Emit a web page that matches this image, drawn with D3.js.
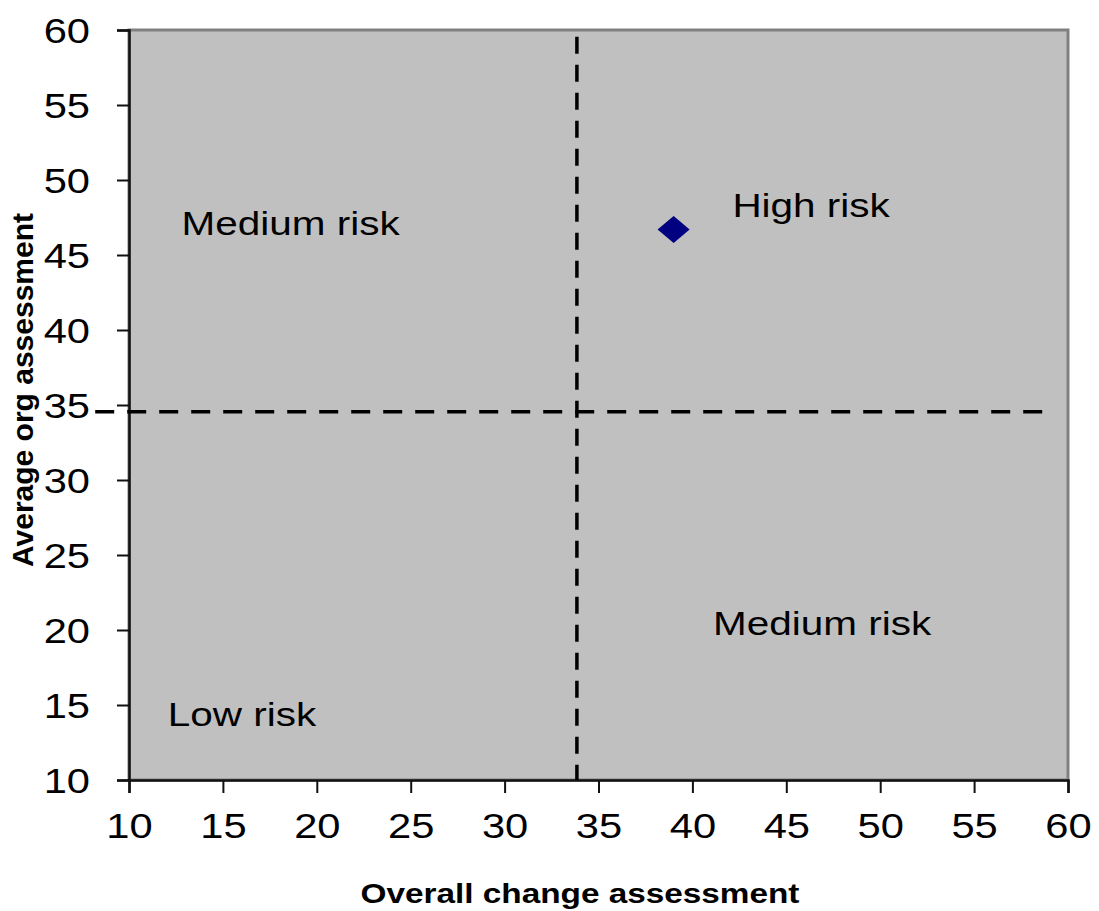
<!DOCTYPE html>
<html>
<head>
<meta charset="utf-8">
<script src="https://cdn.jsdelivr.net/npm/d3@7"></script>
<style>
  html, body { margin: 0; padding: 0; background: #fff; }
  svg { display: block; }
  text { font-family: Arial, "Liberation Sans", sans-serif; fill: #000; }
</style>
</head>
<body>
<svg id="chart" width="1099" height="911"></svg>
<script>
// ---- data ----
const xDomain = [10, 60];
const yDomain = [10, 60];
const xTicks = [10, 15, 20, 25, 30, 35, 40, 45, 50, 55, 60];
const yTicks = [10, 15, 20, 25, 30, 35, 40, 45, 50, 55, 60];
const points = [{ x: 39.0, y: 46.7 }];
const xThreshold = 33.85;           // vertical dashed line
const xThresholdSpan = [10, 59.55];
const yThreshold = 34.55;           // horizontal dashed line
const yThresholdSpan = [8.2, 58.9];
const zoneLabels = ["Medium risk", "High risk", "Medium risk", "Low risk"];
const zoneLabelX = [12.8, 42.13, 41.1, 12.07];
const zoneLabelY = [46.33, 47.53, 19.67, 13.6];
const xTitle = "Overall change assessment";
const yTitle = "Average org assessment";

(function () {
// ---- layout ----
const svg = d3.select("#chart");
const pLeft = 129, pRight = 1068, pTop = 30, pBottom = 780;
const stretch = 1.19;

const x = d3.scaleLinear().domain(xDomain).range([pLeft, pRight]);
const y = d3.scaleLinear().domain(yDomain).range([pBottom, pTop]);

function widen(sel) {
  sel.each(function () {
    const w = this.getComputedTextLength();
    d3.select(this).attr("textLength", w * stretch).attr("lengthAdjust", "spacingAndGlyphs");
  });
}

// plot area
svg.append("rect")
  .attr("x", pLeft).attr("y", pTop)
  .attr("width", pRight - pLeft).attr("height", pBottom - pTop)
  .attr("fill", "#c0c0c0")
  .attr("stroke", "#808080").attr("stroke-width", 3);

// axes
const yAxis = svg.append("g")
  .attr("transform", `translate(${pLeft},0)`)
  .call(d3.axisLeft(y).tickValues(yTicks).tickSize(12).tickPadding(27).tickFormat(d3.format("d")));
const xAxis = svg.append("g")
  .attr("transform", `translate(0,${pBottom})`)
  .call(d3.axisBottom(x).tickValues(xTicks).tickSize(13).tickPadding(20).tickFormat(d3.format("d")));

[yAxis, xAxis].forEach(g => {
  g.select(".domain").attr("stroke", "#111").attr("stroke-width", 2.5);
  g.selectAll(".tick line").attr("stroke", "#111").attr("stroke-width", 2);
  g.selectAll(".tick text")
    .attr("font-size", 35)
    .attr("font-family", "Arial, 'Liberation Sans', sans-serif")
    .attr("fill", "#000");
});
yAxis.selectAll(".tick text").attr("dy", "0.36em");
yAxis.selectAll(".tick text").call(widen);
xAxis.selectAll(".tick text").call(widen);

// threshold dashed lines
svg.append("line")
  .attr("x1", x(yThresholdSpan[0])).attr("x2", x(yThresholdSpan[1]))
  .attr("y1", y(yThreshold)).attr("y2", y(yThreshold))
  .attr("stroke", "#000").attr("stroke-width", 3.5)
  .attr("stroke-dasharray", "19 13");
svg.append("line")
  .attr("x1", x(xThreshold)).attr("x2", x(xThreshold))
  .attr("y1", y(xThresholdSpan[1])).attr("y2", y(xThresholdSpan[0]))
  .attr("stroke", "#000").attr("stroke-width", 3.5)
  .attr("stroke-dasharray", "17 11");

// data point(s): diamond
svg.selectAll(".pt").data(points).enter().append("path")
  .attr("class", "pt")
  .attr("transform", d => `translate(${x(d.x)},${y(d.y)})`)
  .attr("d", "M0,-13.5L16,0L0,13.5L-16,0Z")
  .attr("fill", "#000080");

// zone labels
svg.selectAll(".zone").data(zoneLabels).enter().append("text")
  .attr("class", "zone")
  .attr("x", (d, i) => x(zoneLabelX[i]))
  .attr("y", (d, i) => y(zoneLabelY[i]))
  .attr("font-size", 34)
  .text(d => d)
  .call(widen);

// axis titles
svg.append("text")
  .attr("x", 580).attr("y", 903)
  .attr("text-anchor", "middle")
  .attr("font-size", 28).attr("font-weight", "bold")
  .text(xTitle)
  .call(widen);

svg.append("text")
  .attr("transform", "translate(33,390) rotate(-90)")
  .attr("text-anchor", "middle")
  .attr("font-size", 30).attr("font-weight", "bold")
  .text(yTitle);
})();
</script>
</body>
</html>
